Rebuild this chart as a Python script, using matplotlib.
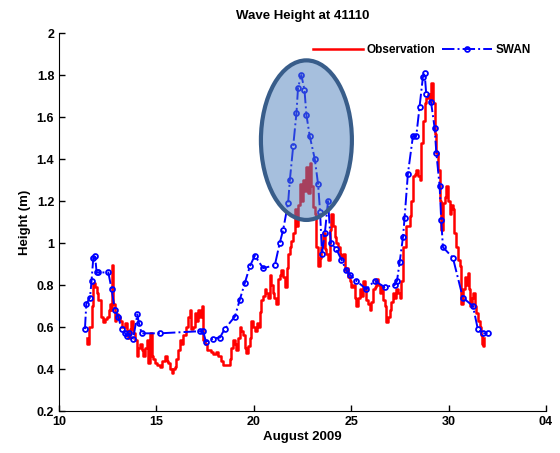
import matplotlib
matplotlib.use("Agg")
import matplotlib.pyplot as plt
from matplotlib.patches import Ellipse

plt.rcParams['font.family'] = ['Liberation Sans', 'DejaVu Sans']

obs_day = [
    11.42, 11.45, 11.55, 11.68, 11.76, 11.85, 11.93, 12.02, 12.13, 12.27, 12.36, 12.45, 12.55, 12.62,
    12.68, 12.73, 12.78, 12.87, 12.95, 13.04, 13.12, 13.21, 13.38, 13.47, 13.55, 13.64, 13.72, 13.81,
    13.90, 13.98, 14.07, 14.15, 14.24, 14.32, 14.41, 14.50, 14.58, 14.67, 14.75, 14.84, 14.92, 15.05,
    15.18, 15.30, 15.44, 15.52, 15.61, 15.70, 15.78, 15.87, 15.95, 16.03, 16.12, 16.20, 16.29, 16.38,
    16.50, 16.63, 16.72, 16.80, 16.89, 16.97, 17.05, 17.14, 17.23, 17.32, 17.40, 17.50, 17.58, 17.66,
    17.78, 17.90, 18.05, 18.17, 18.30, 18.43, 18.60, 18.77, 18.85, 18.94, 19.02, 19.10, 19.20, 19.28,
    19.36, 19.45, 19.54, 19.62, 19.70, 19.79, 19.88, 19.96, 20.05, 20.14, 20.22, 20.30, 20.39, 20.47,
    20.56, 20.64, 20.73, 20.82, 20.90, 21.00, 21.06, 21.13, 21.25, 21.33, 21.42, 21.50, 21.59, 21.68,
    21.76, 21.85, 21.93, 22.02, 22.10, 22.19, 22.25, 22.36, 22.45, 22.55, 22.65, 22.70, 22.78, 22.87,
    22.95, 23.04, 23.13, 23.21, 23.30, 23.38, 23.47, 23.55, 23.64, 23.72, 23.81, 23.90, 23.98, 24.06,
    24.15, 24.24, 24.32, 24.41, 24.50, 24.58, 24.67, 24.76, 24.84, 24.92, 25.01, 25.10, 25.18, 25.26,
    25.35, 25.43, 25.52, 25.60, 25.69, 25.78, 25.86, 25.95, 26.03, 26.12, 26.20, 26.29, 26.37, 26.46,
    26.55, 26.63, 26.72, 26.80, 26.88, 26.97, 27.05, 27.14, 27.22, 27.31, 27.40, 27.49, 27.57, 27.66,
    27.74, 27.83, 27.91, 28.00, 28.08, 28.17, 28.26, 28.34, 28.42, 28.51, 28.60, 28.68, 28.77, 28.85,
    28.94, 29.02, 29.11, 29.20, 29.28, 29.37, 29.45, 29.54, 29.62, 29.71, 29.80, 29.88, 29.96, 30.05,
    30.14, 30.22, 30.30, 30.39, 30.47, 30.56, 30.65, 30.73, 30.82, 30.90, 30.99, 31.05, 31.11, 31.18,
    31.25, 31.33, 31.42, 31.50, 31.59, 31.66, 31.73, 31.79, 31.84]
obs_height = [
    0.55, 0.52, 0.60, 0.70, 0.81, 0.79, 0.76, 0.73, 0.65, 0.625, 0.64, 0.65, 0.68, 0.71,
    0.68, 0.895, 0.71, 0.63, 0.66, 0.65, 0.63, 0.60, 0.62, 0.58, 0.55, 0.59, 0.63, 0.57,
    0.54, 0.46, 0.50, 0.52, 0.49, 0.46, 0.50, 0.54, 0.43, 0.57, 0.46, 0.45, 0.43, 0.42,
    0.41, 0.44, 0.46, 0.44, 0.43, 0.40, 0.38, 0.40, 0.41, 0.45, 0.49, 0.54, 0.52, 0.56,
    0.60, 0.65, 0.68, 0.59, 0.60, 0.665, 0.63, 0.68, 0.65, 0.70, 0.54, 0.52, 0.49, 0.49,
    0.48, 0.47, 0.48, 0.46, 0.44, 0.42, 0.42, 0.45, 0.50, 0.54, 0.52, 0.49, 0.55, 0.60,
    0.58, 0.56, 0.50, 0.475, 0.51, 0.55, 0.63, 0.60, 0.58, 0.62, 0.60, 0.67, 0.73, 0.75,
    0.78, 0.76, 0.74, 0.85, 0.80, 0.76, 0.74, 0.71, 0.83, 0.85, 0.87, 0.84, 0.79, 0.88,
    0.95, 0.98, 1.01, 1.05, 1.16, 1.08, 1.18, 1.28, 1.20, 1.30, 1.25, 1.36, 1.24, 1.38,
    1.27, 1.17, 1.14, 0.98, 0.89, 0.93, 0.98, 1.05, 0.97, 0.95, 0.92, 1.06, 1.14, 1.08,
    1.03, 1.00, 0.98, 0.95, 0.93, 0.95, 0.87, 0.88, 0.84, 0.82, 0.79, 0.80, 0.74, 0.70,
    0.74, 0.78, 0.75, 0.82, 0.78, 0.73, 0.71, 0.68, 0.72, 0.78, 0.79, 0.83, 0.80, 0.76,
    0.79, 0.73, 0.70, 0.625, 0.65, 0.68, 0.72, 0.76, 0.74, 0.78, 0.76, 0.74, 0.82, 0.98,
    0.98, 1.08, 1.08, 1.13, 1.20, 1.32, 1.33, 1.35, 1.32, 1.30, 1.475, 1.58, 1.665, 1.69,
    1.71, 1.68, 1.76, 1.665, 1.52, 1.43, 1.35, 1.20, 1.06, 1.19, 1.22, 1.27, 1.20, 1.14,
    1.18, 1.16, 1.05, 0.98, 0.92, 0.89, 0.71, 0.78, 0.84, 0.80, 0.855, 0.78, 0.70, 0.74,
    0.76, 0.70, 0.665, 0.63, 0.60, 0.56, 0.52, 0.51, 0.55]

swan_day = [11.33, 11.4, 11.59, 11.67, 11.76, 11.85, 11.93, 12.0, 12.53, 12.7, 12.87, 13.04, 13.21,
            13.4, 13.47, 13.6, 13.81, 14.02, 14.1, 14.24, 15.18, 17.23, 17.4, 17.54, 17.91, 18.26,
            18.5, 19.03, 19.28, 19.54, 19.8, 20.05, 20.48, 21.08, 21.33, 21.5, 21.76, 21.85, 22.02,
            22.19, 22.27, 22.44, 22.6, 22.7, 22.87, 23.13, 23.3, 23.4, 23.5, 23.65, 23.81, 23.95,
            24.24, 24.5, 24.75, 24.92, 25.26, 25.78, 26.2, 26.72, 27.23, 27.35, 27.49, 27.66, 27.74,
            27.91, 28.17, 28.34, 28.51, 28.68, 28.77, 28.85, 29.1, 29.28, 29.37, 29.54, 29.62, 29.71,
            30.22, 30.73, 31.25, 31.5, 31.76, 32.0]
swan_height = [0.59, 0.71, 0.74, 0.82, 0.93, 0.94, 0.86, 0.86, 0.86, 0.78, 0.68, 0.65, 0.59,
               0.57, 0.555, 0.57, 0.545, 0.66, 0.62, 0.57, 0.57, 0.58, 0.58, 0.53, 0.545, 0.55,
               0.59, 0.65, 0.73, 0.81, 0.89, 0.94, 0.88, 0.895, 1.00, 1.06, 1.19, 1.30, 1.46,
               1.62, 1.74, 1.80, 1.73, 1.61, 1.51, 1.40, 1.28, 1.15, 0.95, 1.05, 1.20, 1.00,
               0.97, 0.92, 0.87, 0.85, 0.82, 0.78, 0.82, 0.79, 0.80, 0.82, 0.91, 1.03, 1.12,
               1.33, 1.51, 1.51, 1.65, 1.79, 1.81, 1.71, 1.67, 1.55, 1.43, 1.27, 1.11, 0.98,
               0.93, 0.74, 0.70, 0.59, 0.57, 0.57]

x_ticks = [10, 15, 20, 25, 30, 35]
x_tick_labels = ['10', '15', '20', '25', '30', '04']
y_ticks = [0.2, 0.4, 0.6, 0.8, 1.0, 1.2, 1.4, 1.6, 1.8, 2.0]
y_tick_labels = ['0.2', '0.4', '0.6', '0.8', '1', '1.2', '1.4', '1.6', '1.8', '2']

fig = plt.figure(figsize=(5.6, 4.53), dpi=100)
ax = fig.add_axes([0.1054, 0.0927, 0.8696, 0.8343])

ax.plot(obs_day, obs_height, color='#ff0000', lw=1.8, drawstyle='steps-post', label='Observation')
ax.plot(swan_day, swan_height, color='#0000ff', lw=1.4, ls='-.', marker='o', ms=3.5,
        mfc='none', mec='#0000ff', mew=1.3, label='SWAN')

ell = Ellipse((22.7, 1.49), 4.67, 0.76, facecolor=(0.31, 0.506, 0.741, 0.5),
              edgecolor='#385d8a', lw=3, zorder=5)
ax.add_patch(ell)

ax.set_xlim(10, 35)
ax.set_ylim(0.2, 2.0)
ax.set_xticks(x_ticks)
ax.set_xticklabels(x_tick_labels)
ax.set_yticks(y_ticks)
ax.set_yticklabels(y_tick_labels)
ax.tick_params(direction='in', length=4, labelsize=9, width=1)
for lbl in ax.get_xticklabels() + ax.get_yticklabels():
    lbl.set_fontweight('bold')
ax.spines['top'].set_visible(False)
ax.spines['right'].set_visible(False)

ax.set_title('Wave Height at 41110', fontsize=9.5, fontweight='bold', pad=10)
ax.set_xlabel('August 2009', fontsize=9.5, fontweight='bold', labelpad=2)
ax.set_ylabel('Height (m)', fontsize=9.5, fontweight='bold')

leg = ax.legend(loc='upper right', ncol=2, frameon=False, fontsize=8.5,
                bbox_to_anchor=(0.99, 1.0), handlelength=4.2, columnspacing=0.6, handletextpad=0.3)
for t in leg.get_texts():
    t.set_fontweight('bold')

fig.savefig('out.png', dpi=100)
